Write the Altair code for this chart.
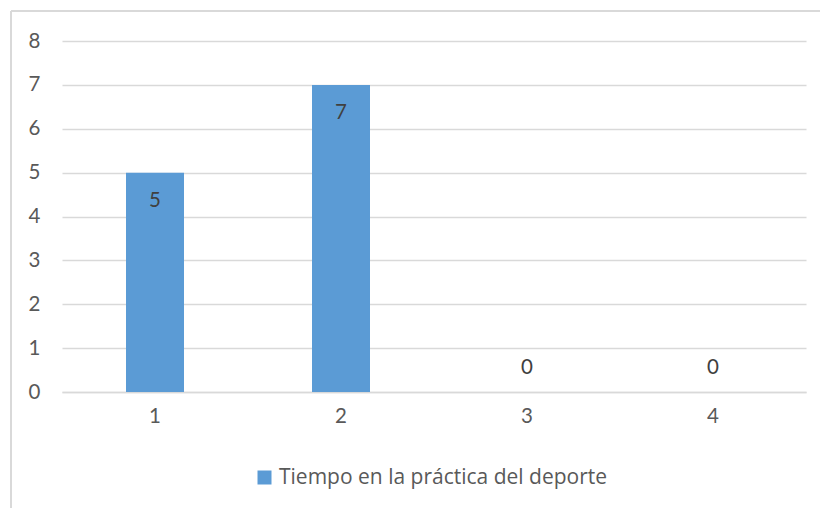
import altair as alt
import pandas as pd

categories = ["1", "2", "3", "4"]
values = [5, 7, 0, 0]
series_name = "Tiempo en la práctica del deporte"

df = pd.DataFrame({"cat": categories, "val": values, "serie": [series_name] * len(values)})

FONT = "Lato"
LEGEND_FONT = "Open Sans"
TEXT = "#595959"
GRID = "#d9d9d9"
BAR = "#5b9bd5"
FS = 20.5

x_enc = alt.X("cat:N", sort=categories, title=None,
              scale=alt.Scale(paddingInner=0.69, paddingOuter=0.345),
              axis=alt.Axis(labelAngle=0, labelFontSize=FS, labelColor=TEXT, labelFont=FONT,
                            labelPadding=14, domainColor=GRID, domainWidth=1.5, ticks=False))
y_enc = alt.Y("val:Q", title=None,
              scale=alt.Scale(domain=[0, 8], nice=False),
              axis=alt.Axis(values=list(range(9)), labelFontSize=FS, labelColor=TEXT, labelFont=FONT,
                            labelPadding=22, domain=False, ticks=False, gridColor=GRID, gridWidth=1.5))

base = alt.Chart(df)

# chart frame: top and left edges (the others fall outside the page)
frame_top = base.mark_rule(stroke=GRID, strokeWidth=2, clip=False).encode(
    x=alt.value(-51), x2=alt.value(760), y=alt.value(-30)
)
frame_left = base.mark_rule(stroke=GRID, strokeWidth=2, clip=False).encode(
    x=alt.value(-51), y=alt.value(-30), y2=alt.value(470)
)

bars = base.mark_bar(size=58).encode(
    x=x_enc,
    y=y_enc,
    color=alt.Color("serie:N", scale=alt.Scale(range=[BAR]), title=None,
                    legend=alt.Legend(orient="none", legendX=192, legendY=426,
                                      symbolType="square", symbolSize=196,
                                      symbolStrokeWidth=0, labelFontSize=21,
                                      labelColor=TEXT, labelFont=LEGEND_FONT, labelOffset=4,
                                      labelLimit=0)),
)

labels_in = base.transform_filter("datum.val > 0").mark_text(
    baseline="middle", dy=28, fontSize=FS, color="#404040", font=FONT
).encode(x=alt.X("cat:N", sort=categories), y="val:Q", text="val:Q")

labels_zero = base.transform_filter("datum.val == 0").mark_text(
    baseline="middle", dy=-24, fontSize=FS, color="#404040", font=FONT
).encode(x=alt.X("cat:N", sort=categories), y="val:Q", text="val:Q")

chart = alt.layer(frame_top, frame_left, bars, labels_in, labels_zero).properties(
    width=744, height=351,
    padding={"left": 62, "top": 41, "right": 14, "bottom": 116},
    autosize=alt.AutoSizeParams(type="none"),
    background="white",
).configure_view(stroke=None)

chart.save("out.html", embed_options={"renderer": "svg", "actions": False})
